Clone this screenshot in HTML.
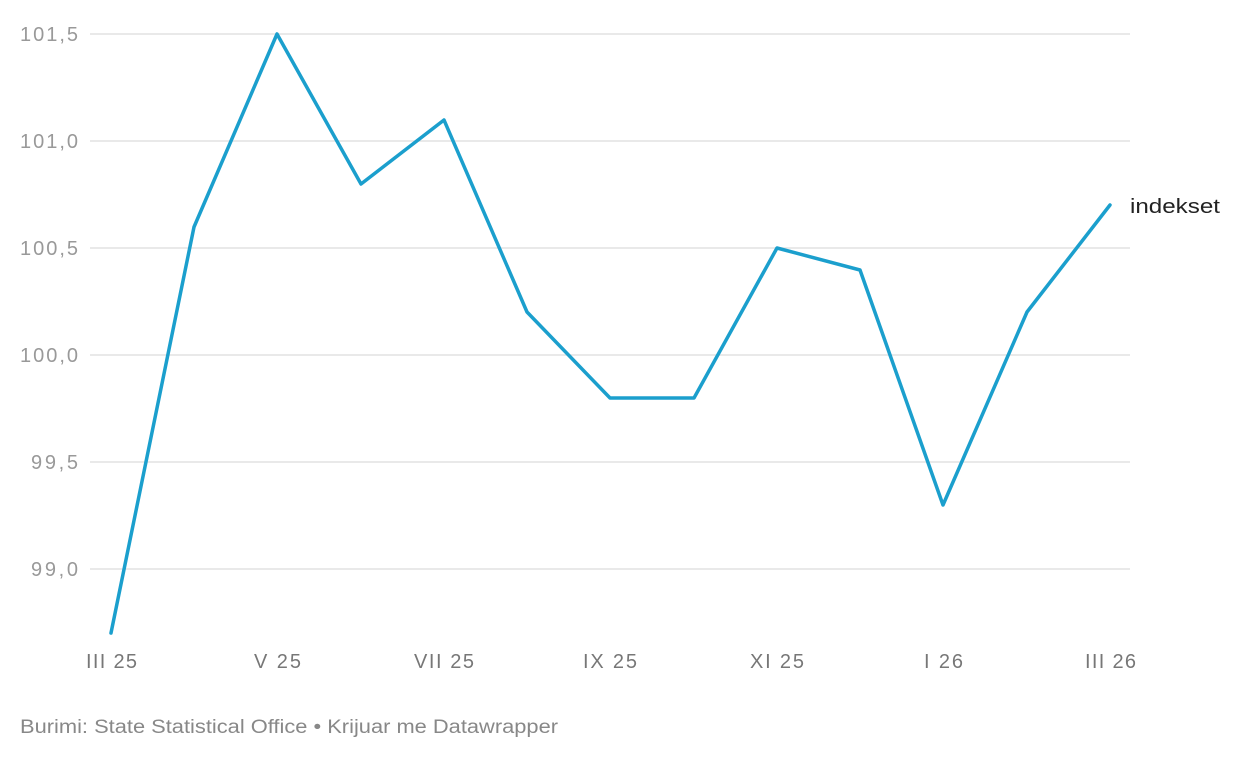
<!DOCTYPE html>
<html><head><style>
body{margin:0;background:#fff;}
svg text{font-family:"Liberation Sans",sans-serif;}
</style></head><body>
<svg width="1240" height="760" viewBox="0 0 1240 760" xmlns="http://www.w3.org/2000/svg">
<g stroke="#e2e2e2" stroke-width="1.5">
<line x1="90" x2="1130" y1="34" y2="34"/>
<line x1="90" x2="1130" y1="141" y2="141"/>
<line x1="90" x2="1130" y1="248" y2="248"/>
<line x1="90" x2="1130" y1="355" y2="355"/>
<line x1="90" x2="1130" y1="462" y2="462"/>
<line x1="90" x2="1130" y1="569" y2="569"/>
</g>
<g fill="#999" font-size="20" lengthAdjust="spacingAndGlyphs">
<text x="20" y="41" textLength="58">101,5</text>
<text x="20" y="148" textLength="58">101,0</text>
<text x="20" y="255" textLength="58">100,5</text>
<text x="20" y="362" textLength="58">100,0</text>
<text x="31" y="469" textLength="47">99,5</text>
<text x="31" y="576" textLength="47">99,0</text>
</g>
<g fill="#777" font-size="20" lengthAdjust="spacingAndGlyphs">
<text x="86" y="668" textLength="51">III 25</text>
<text x="254" y="668" textLength="47">V 25</text>
<text x="414" y="668" textLength="60">VII 25</text>
<text x="583" y="668" textLength="54">IX 25</text>
<text x="750" y="668" textLength="54">XI 25</text>
<text x="924" y="668" textLength="39">I 26</text>
<text x="1085" y="668" textLength="51">III 26</text>
</g>
<polyline fill="none" stroke="#1b9fcd" stroke-width="3.5" stroke-linejoin="round" stroke-linecap="round"
points="111,633 194,227 277,34 361,184 444,120 527,312 610,398 694,398 777,248 860,270 943,505 1027,312 1110,205"/>
<text x="1130" y="213" font-size="20" fill="#222" textLength="90" lengthAdjust="spacingAndGlyphs">indekset</text>
<text x="20" y="733" font-size="19" fill="#888" textLength="538" lengthAdjust="spacingAndGlyphs">Burimi: State Statistical Office • Krijuar me Datawrapper</text>
</svg>
</body></html>
